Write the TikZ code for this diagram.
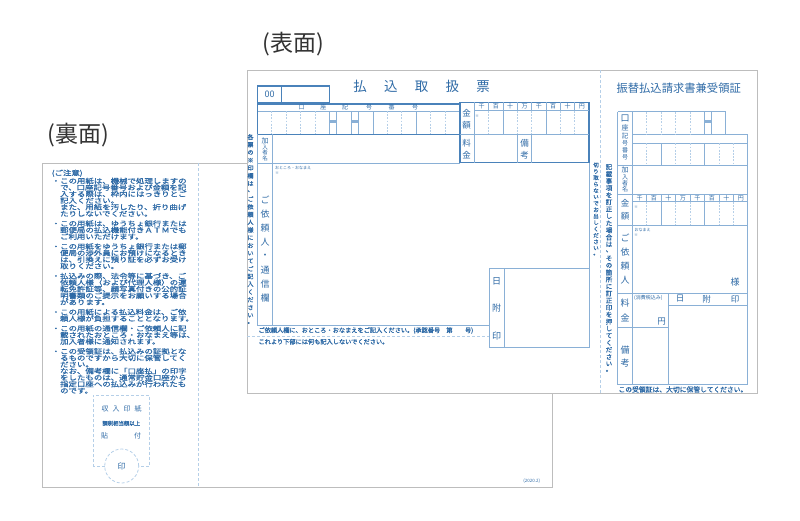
\documentclass[tikz,border=0pt]{standalone}
\usepackage{fontspec}
\setmainfont{Noto Sans CJK JP}
\newfontfamily\jpbold[FakeBold=1.2]{Noto Sans CJK JP}
\newfontfamily\jpwide[FakeBold=1.2,FakeStretch=1.24]{Noto Sans CJK JP}

\definecolor{formblue}{HTML}{2E6AA6}
\definecolor{lineblue}{HTML}{4A82BA}
\definecolor{midblue}{HTML}{8AB0D6}
\definecolor{paleblue}{HTML}{B5CFE8}
\definecolor{sheetgray}{HTML}{BDBDBD}
\definecolor{titlegray}{HTML}{333333}

\newcommand\fs[1]{\fontsize{#1}{#1}\selectfont}

\begin{document}
\begin{tikzpicture}[x=1pt,y=-1pt,
    sheet/.style={draw=sheetgray,line width=0.8pt},
    heavy/.style={draw=lineblue,line width=1.4pt},
    rule/.style={draw=midblue,line width=0.9pt},
    fine/.style={draw=midblue,line width=0.6pt},
    dots/.style={draw=paleblue,line width=0.6pt,dash pattern=on 1.8pt off 1.4pt},
    perf/.style={draw=paleblue,line width=0.8pt,dash pattern=on 3pt off 2pt},
    lbl/.style={text=formblue,inner sep=0pt,font=\fs{#1}},
    lbl/.default=9,
    note/.style={text=formblue,inner sep=0pt,font=\jpbold\fs{#1}},
    note/.default=6,
    heading/.style={text=titlegray,inner sep=0pt,font=\fs{23}}]

    \useasboundingbox (0,0) rectangle (800,520);

    % back side
    \draw [sheet] (42,163) rectangle (552,487);
    \draw [perf] (198.3,163) -- (198.3,487);
    \node [heading] (backtitle) at (78,135) {(裏面)};

    \node [text=formblue,inner sep=0pt,anchor=north west,align=left,
           font=\jpwide\fontsize{6.8}{6.55}\selectfont] (caution) at (51.5,169.5) {%
        (ご注意)\\
        ・この用紙は、機械で処理しますの\\
        　で、口座記号番号および金額を記\\
        　入する際は、枠内にはっきりとご\\
        　記入ください。\\
        　また、用紙を汚したり、折り曲げ\\
        　たりしないでください。\\[3.3pt]
        ・この用紙は、ゆうちょ銀行または\\
        　郵便局の払込機能付きＡＴＭでも\\
        　ご利用いただけます。\\[3.3pt]
        ・この用紙をゆうちょ銀行または郵\\
        　便局の渉外員にお預けになるとき\\
        　は、引換えに預り証を必ずお受け\\
        　取りください。\\[3.3pt]
        ・払込みの際、法令等に基づき、ご\\
        　依頼人様（および代理人様）の運\\
        　転免許証等、顔写真付きの公的証\\
        　明書類のご提示をお願いする場合\\
        　があります。\\[3.3pt]
        ・この用紙による払込料金は、ご依\\
        　頼人様が負担することとなります。\\[3.3pt]
        ・この用紙の通信欄・ご依頼人に記\\
        　載されたおところ・おなまえ等は、\\
        　加入者様に通知されます。\\[3.3pt]
        ・この受領証は、払込みの証拠とな\\
        　るものですから大切に保管してく\\
        　ださい。\\
        　なお、備考欄に「口座払」の印字\\
        　をしたものは、通常貯金口座から\\
        　指定口座への払込みが行われたも\\
        　のです。};

    % revenue stamp box
    \draw [perf] (104.7,466) -- (93.3,466) -- (93.3,395) -- (149.3,395) -- (149.3,466) -- (138.7,466);
    \draw [perf] (121.7,466) circle [radius=17pt];
    \foreach \ch [count=\i from 0] in {収,入,印,紙}
        \node [lbl=7] at (105+11*\i,409.3) {\ch};
    \node [note=5.4] (taxnote) at (121.3,423.3) {課税相当額以上};
    \node [lbl=7] (paste1) at (104.5,435.7) {貼};
    \node [lbl=7] (paste2) at (137.5,435.7) {付};
    \node [lbl=8] (seal) at (121.7,466) {印};
    \node [lbl=4.5] (edition) at (531.7,480.7) {(2020.2)};

    % front side
    \fill [white] (247,70) rectangle (757,393);
    \draw [sheet] (247,70) rectangle (757,393);
    \node [heading] (fronttitle) at (293,44) {(表面)};
    \draw [perf] (600.5,70) -- (600.5,393);

    \foreach \ch [count=\i from 0] in {払,込,取,扱,票}
        \node [lbl=13.5] at (360+30.75*\i,86.5) {\ch};

    % account number
    \draw [heavy] (257.3,86) rectangle (329.3,102.7);
    \draw [heavy] (281.7,86) -- (281.7,102.7);
    \node [lbl=9] (zero) at (269.5,94.5) {00};
    \draw [fine] (257.3,111) -- (460,111);
    \draw [heavy] (257.3,104) rectangle (460,134.3);
    \foreach \ch/\x in {口/301.7,座/323.3,記/345,号/369,番/391.7,号/415}
        \node [lbl=6] at (\x,107.5) {\ch};
    \foreach \x in {271.7,286.1,300.5,314.9,387.7,401.7,430.7,445.3}
        \draw [dots] (\x,111) -- (\x,134.3);
    \foreach \x in {329.3,336.7,351.7,358.3,373.3,416.7}
        \draw [fine] (\x,111) -- (\x,134.3);
    \fill [midblue] (329.3,119.5) rectangle (336.7,122.5);
    \fill [midblue] (351.7,119.5) rectangle (358.3,122.5);

    % payee
    \draw [rule] (272.3,134.3) -- (272.3,163);
    \node [lbl=7] at (265,141) {加};
    \node [lbl=5.5] at (265,147.5) {入};
    \node [lbl=5.5] at (265,152.7) {者};
    \node [lbl=5.5] at (265,158) {名};

    % amount
    \draw [heavy] (460,102.3) rectangle (589,162.7);
    \draw [rule] (474.3,102.3) -- (474.3,162.7);
    \draw [fine] (474.3,110.7) -- (589,110.7);
    \draw [rule] (460,134.3) -- (589,134.3);
    \foreach \x in {488.6,503,517.3,531.6,546,560.3,574.6}
        \draw [fine] (\x,102.3) -- (\x,110.7);
    \foreach \x in {488.6,517.3,531.6,560.3,574.6}
        \draw [dots] (\x,110.7) -- (\x,134.3);
    \foreach \x in {503,546}
        \draw [fine] (\x,110.7) -- (\x,134.3);
    \draw [rule] (517.3,134.3) -- (517.3,162.7) (531.7,134.3) -- (531.7,162.7);
    \foreach \ch [count=\i from 0] in {千,百,十,万,千,百,十,円}
        \node [lbl=6] at (481.5+14.34*\i,106.5) {\ch};
    \node [lbl=3.5] at (477,116) {※};
    \node [lbl=8.5] at (466.7,112.7) {金};
    \node [lbl=8.5] at (466.7,125) {額};
    \node [lbl=8.5] at (466.7,143) {料};
    \node [lbl=8.5] at (466.7,155) {金};
    \node [lbl=8.5] at (524.5,143) {備};
    \node [lbl=8.5] at (524.5,155) {考};

    % sender and message
    \draw [rule] (258.3,163) -- (460,163);
    \draw [rule] (257.3,134.3) -- (257.3,325) -- (489.3,325);
    \draw [rule] (589.3,162.7) -- (589.3,347.3);
    \draw [rule] (272.3,163) -- (272.3,325);
    \node [lbl=4,anchor=west] (addr) at (275,168.3) {おところ・おなまえ};
    \node [lbl=3.5] at (277,173.5) {※};
    \foreach \ch [count=\i from 0] in {ご,依,頼,人,・,通,信,欄}
        \node [lbl=9] at (265,200+14*\i) {\ch};

    % date stamp
    \draw [rule] (489.3,268.3) rectangle (589.3,347.3);
    \draw [rule] (504,268.3) -- (504,347.3);
    \node [lbl=9] at (496.7,281.7) {日};
    \node [lbl=9] at (496.7,307.7) {附};
    \node [lbl=9] at (496.7,335.7) {印};

    \node [note=6.2,anchor=west] (fillin) at (258.3,330.5)
        {ご依頼人欄に、おところ・おなまえをご記入ください。(承認番号　第　　号)};
    \draw [perf] (247,336.7) -- (489.3,336.7);
    \node [note=6.2,anchor=west] (blank) at (258.3,341.7)
        {これより下部には何も記入しないでください。};

    \foreach \ch [count=\i from 0] in {各,票,の,※,印,欄,は,、,ご,依,頼,人,様,に,お,い,て,ご,記,入,く,だ,さ,い,。}
        \node [note=6] at (250.5,137+7.75*\i) {\ch};
    \foreach \ch [count=\i from 0] in {切,り,取,ら,な,い,で,お,出,し,く,だ,さ,い,。}
        \node [note=5.5] at (596,165+6.4*\i) {\ch};
    \foreach \ch [count=\i from 0] in {記,載,事,項,を,訂,正,し,た,場,合,は,、,そ,の,箇,所,に,訂,正,印,を,押,し,て,く,だ,さ,い,。}
        \node [note=6.5] at (609,167+7.03*\i) {\ch};

    % receipt
    \node [lbl=11.3] (receipt) at (678.7,87.7) {振替払込請求書兼受領証};
    \draw [rule] (617.7,111.7) -- (725.7,111.7) -- (725.7,134.3);
    \draw [rule] (632.3,134.3) -- (747.7,134.3) -- (747.7,384.3) -- (617.7,384.3) -- (617.7,111.7);
    \draw [rule] (632.3,111.7) -- (632.3,384.3);
    \draw [rule] (632.3,143.3) -- (747.7,143.3);
    \foreach \y in {165,194.3,225,293.3}
        \draw [rule] (617.7,\y) -- (747.7,\y);
    \draw [fine] (632.3,201.7) -- (747.7,201.7);
    \draw [rule] (617.7,327.7) -- (668.3,327.7);
    \draw [rule] (668.3,305) -- (747.7,305);
    \draw [rule] (668.3,293.3) -- (668.3,384.3);
    \foreach \x in {646.7,661,675.7,690}
        \draw [dots] (\x,111.7) -- (\x,134.3);
    \draw [fine] (704.3,111.7) -- (704.3,134.3) (711.7,111.7) -- (711.7,134.3);
    \fill [midblue] (704.3,119.5) rectangle (711.7,122.5);
    \foreach \x in {646.7,675.7,690,719,733.3} {
        \draw [dots] (\x,143.3) -- (\x,165);
        \draw [dots] (\x,201.7) -- (\x,225);
    }
    \foreach \x in {661,704.3} {
        \draw [fine] (\x,143.3) -- (\x,165);
        \draw [fine] (\x,201.7) -- (\x,225);
    }
    \foreach \x in {646.7,661,675.7,690,704.3,719,733.3}
        \draw [fine] (\x,194.3) -- (\x,201.7);
    \foreach \ch [count=\i from 0] in {千,百,十,万,千,百,十,円}
        \node [lbl=6] at (639.5+14.49*\i,198) {\ch};
    \node [lbl=9] at (625,118) {口};
    \node [lbl=7] at (625,128) {座};
    \node [lbl=6.5] at (625,136) {記};
    \node [lbl=6] at (625,143.5) {号};
    \node [lbl=6] at (625,150.5) {番};
    \node [lbl=6] at (625,157.5) {号};
    \node [lbl=7] at (625,170) {加};
    \node [lbl=6] at (625,177) {入};
    \node [lbl=6] at (625,183.5) {者};
    \node [lbl=6] at (625,189.5) {名};
    \node [lbl=8.5] at (625,203) {金};
    \node [lbl=8.5] at (625,216) {額};
    \node [lbl=3.5] at (636,207) {※};
    \node [lbl=4,anchor=west] (name) at (634.5,229.5) {おなまえ};
    \node [lbl=3.5] at (636,235) {※};
    \foreach \ch [count=\i from 0] in {ご,依,頼,人}
        \node [lbl=9] at (625,238.3+13.9*\i) {\ch};
    \node [lbl=9] (sama) at (735,281.7) {様};
    \node [lbl=9] at (625,303.3) {料};
    \node [lbl=9] at (625,318.3) {金};
    \node [lbl=5,anchor=west] (taxin) at (634,297.7) {(消費税込み)};
    \node [lbl=8.5] (yen) at (661.7,321.7) {円};
    \node [lbl=8.5] at (680,299) {日};
    \node [lbl=8.5] at (706.7,299) {附};
    \node [lbl=8.5] at (735,299) {印};
    \node [lbl=9] at (625,350) {備};
    \node [lbl=9] at (625,363.3) {考};
    \node [note=6.8,anchor=west] (keep) at (618.3,389.5)
        {この受領証は、大切に保管してください。};
\end{tikzpicture}
\end{document}
